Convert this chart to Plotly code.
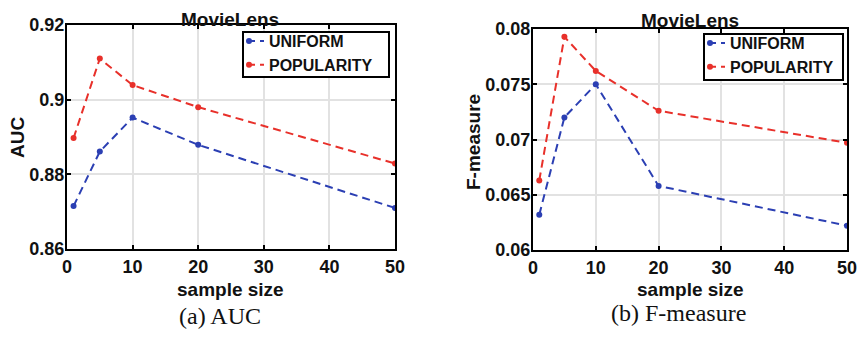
import plotly.graph_objects as go

sample_size = [1, 5, 10, 20, 50]
auc_uniform = [0.8715, 0.8861, 0.8952, 0.8879, 0.8710]
auc_popularity = [0.8897, 0.9110, 0.9039, 0.8980, 0.8829]
f_uniform = [0.0632, 0.0720, 0.0750, 0.0658, 0.0622]
f_popularity = [0.0663, 0.0793, 0.0762, 0.0726, 0.0697]

x_ticks = [0, 10, 20, 30, 40, 50]
auc_ticks = [0.86, 0.88, 0.9, 0.92]
auc_tick_text = ["0.86", "0.88", "0.9", "0.92"]
f_ticks = [0.06, 0.065, 0.07, 0.075, 0.08]
f_tick_text = ["0.06", "0.065", "0.07", "0.075", "0.08"]

BLUE = "#2b3fb3"
RED = "#e8302a"
# the page body has an 8px margin: the figure starts at (8, 8) in the window
OFF = 8
W, H = 866 - 2 * OFF, 337 - 2 * OFF
SANS = "Liberation Sans, Arial, sans-serif"
SERIF = "Liberation Serif, Times New Roman, serif"

fig = go.Figure()

def add(x, y, name, color, xa, ya, legend):
    fig.add_trace(go.Scatter(
        x=x, y=y, name=name, mode="lines+markers",
        line=dict(color=color, width=2, dash="8px,5px"),
        marker=dict(color=color, size=6, symbol="circle"),
        xaxis=xa, yaxis=ya, legend=legend, showlegend=True))

add(sample_size, auc_uniform, "UNIFORM", BLUE, "x", "y", "legend")
add(sample_size, auc_popularity, "POPULARITY", RED, "x", "y", "legend")
add(sample_size, f_uniform, "UNIFORM", BLUE, "x2", "y2", "legend2")
add(sample_size, f_popularity, "POPULARITY", RED, "x2", "y2", "legend2")

def px(v):
    return (v - OFF) / W

def py(v):
    return 1 - (v - OFF) / H

axis_common = dict(
    showline=True, linecolor="black", linewidth=2, mirror="ticks",
    ticks="inside", ticklen=4, tickcolor="black", tickwidth=2,
    showgrid=True, gridcolor="#e2e2e2", gridwidth=1.5, zeroline=False,
    automargin=False, ticklabeloverflow="allow",
    tickfont=dict(family=SANS, size=18, color="#111", weight="bold"),
)

legend_common = dict(
    xanchor="left", yanchor="top",
    bgcolor="rgba(0,0,0,0)", borderwidth=0,
    font=dict(family=SANS, size=16, color="#111", weight="bold"),
    tracegroupgap=0, itemwidth=30, indentation=-15,
)

fig.update_layout(
    width=W, height=H, margin=dict(l=0, r=0, t=0, b=0, autoexpand=False),
    paper_bgcolor="white", plot_bgcolor="white",
    xaxis=dict(domain=[px(67), px(395)], range=[0, 50], tickvals=x_ticks,
               anchor="y", **axis_common),
    yaxis=dict(domain=[py(249), py(25)], range=[0.86, 0.92], tickvals=auc_ticks,
               ticktext=auc_tick_text, anchor="x", ticklabelstandoff=-3,
               **axis_common),
    xaxis2=dict(domain=[px(533), px(847)], range=[0, 50], tickvals=x_ticks,
                anchor="y2", **axis_common),
    yaxis2=dict(domain=[py(250), py(29)], range=[0.06, 0.08], tickvals=f_ticks,
                ticktext=f_tick_text, anchor="x2", ticklabelstandoff=-3,
                **axis_common),
    legend=dict(x=px(244), y=py(24), **legend_common),
    legend2=dict(x=px(705), y=py(26), **legend_common),
)

# legend frames (white boxes with black borders)
for x0, y0, x1, y1 in [(243, 32, 389, 77), (704, 34, 843, 80)]:
    fig.add_shape(type="rect", xref="paper", yref="paper",
                  x0=px(x0), x1=px(x1), y0=py(y1), y1=py(y0),
                  line=dict(color="black", width=2), fillcolor="white",
                  layer="above")

def ann(text, x, y, size, family, bold=False, angle=0):
    fig.add_annotation(text=text, x=px(x), y=py(y), xref="paper", yref="paper",
                       showarrow=False, textangle=angle,
                       font=dict(family=family, size=size, color="#111",
                                 weight="bold" if bold else "normal"),
                       xanchor="center", yanchor="middle")

ann("MovieLens", 230, 19, 19, SANS, True)
ann("MovieLens", 690, 20, 19, SANS, True)
ann("sample size", 230, 289, 19, SANS, True)
ann("sample size", 690, 289, 19, SANS, True)
ann("AUC", 17, 138, 19, SANS, True, -90)
ann("F-measure", 473, 142, 19, SANS, True, -90)
ann("(a) AUC", 220, 316, 24, SERIF)
ann("(b) F-measure", 678, 313, 24, SERIF)

fig.write_html("out.html")
